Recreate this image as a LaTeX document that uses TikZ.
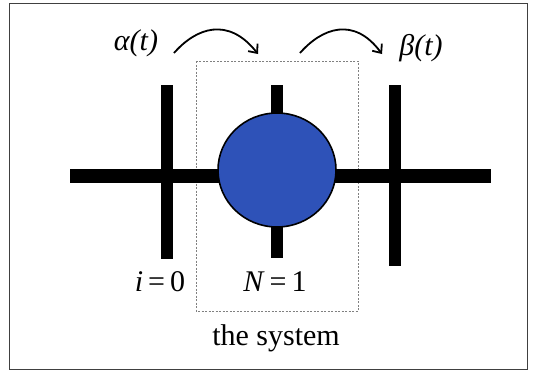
\documentclass[tikz,border=0pt]{standalone}
\usepackage{fontspec}
\setmainfont{Liberation Serif}
\usetikzlibrary{arrows.meta,shapes.geometric}
\definecolor{nodeblue}{RGB}{46,82,184}
\tikzset{
  bar/.style={line width=12pt, black},
  lbl/.style={font=\fontsize{30}{34}\selectfont, inner sep=0pt},
  flow/.style={line width=1.8pt, -{Straight Barb[length=7pt,width=12pt,line width=1.8pt]}},
}
\begin{document}
\begin{tikzpicture}[x=1pt,y=-1pt]
\useasboundingbox (0,0) rectangle (535,373);
\fill[white] (0,0) rectangle (535,373);
\draw[gray!50!black, line width=1pt] (9.5,3) rectangle (527,369);
% system box
\draw[gray, line width=0.7pt, dash pattern=on 2pt off 1.5pt] (196,61) rectangle (358,311);
% bars
\coordinate (hl) at (70,176);
\coordinate (hr) at (491,176);
\draw[line width=14pt] (hl) -- (hr);
\coordinate (a1) at (166.5,85); \coordinate (a2) at (166.5,259);
\coordinate (b1) at (277,85); \coordinate (b2) at (277,258);
\coordinate (c1) at (395,85); \coordinate (c2) at (395,266);
\draw[bar] (a1) -- (a2);
\draw[bar] (b1) -- (b2);
\draw[bar] (c1) -- (c2);
% node
\node[ellipse, draw=black, line width=1.6pt, fill=nodeblue, minimum width=118pt, minimum height=114pt, inner sep=0pt] (sys) at (277,170) {};
% labels
\node[lbl] (alpha) at (136,43) {\itshape α(t)};
\node[lbl] (beta) at (421,48) {\itshape β(t)};
\node[lbl] (izero) at (160,282) {\textit{i}\,=\,0};
\node[lbl] (none) at (275,282) {\textit{N}\,=\,1};
\node[lbl] (sysl) at (276,338) {the system};
% arrows
\coordinate (f1s) at (174,53); \coordinate (f1e) at (258,54);
\coordinate (f2s) at (300,53); \coordinate (f2e) at (382,54);
\draw[flow] (f1s) .. controls (196,28) and (228,16) .. (f1e);
\draw[flow] (f2s) .. controls (322,28) and (354,16) .. (f2e);
\end{tikzpicture}
\end{document}
